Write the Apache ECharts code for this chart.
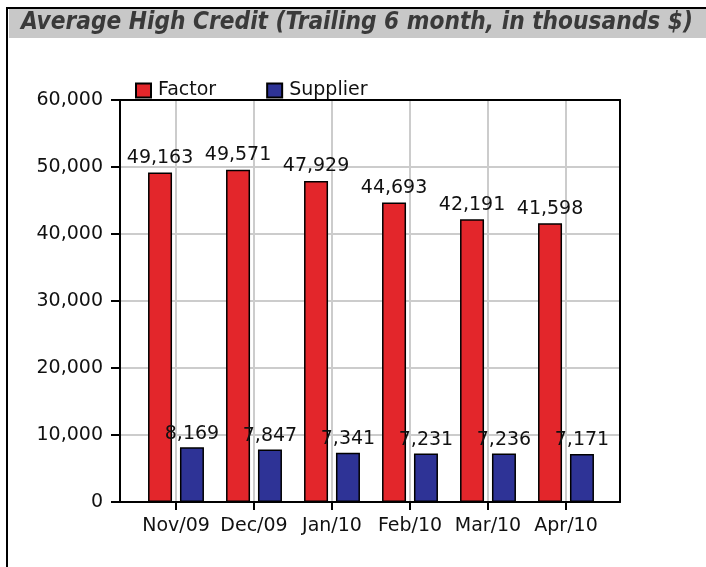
<!DOCTYPE html>
<html><head><meta charset="utf-8">
<script src="https://cdn.jsdelivr.net/npm/echarts@6/dist/echarts.min.js"></script>
<style>html,body{margin:0;padding:0;background:#fff}#c{width:706px;height:567px}</style>
</head><body><div id="c"></div>
<script>
const titleText = 'Average High Credit (Trailing 6 month, in thousands $)';
const categories = ['Nov/09','Dec/09','Jan/10','Feb/10','Mar/10','Apr/10'];
const factor = [49163, 49571, 47929, 44693, 42191, 41598];
const supplier = [8169, 7847, 7341, 7231, 7236, 7171];
const yTicks = {min: 0, max: 60000, interval: 10000};

function fmt(v){ return String(v).replace(/\B(?=(\d{3})+(?!\d))/g, ','); }
const FONT = 'DejaVu Sans';
const frameLine = {show:true, onZero:false, lineStyle:{color:'#000', width:2}};
const chart = echarts.init(document.getElementById('c'), null, {renderer:'canvas'});
chart.setOption({
  animation: false,
  graphic: [
    {type:'rect', shape:{x:9, y:9, width:700, height:29}, style:{fill:'#c8c8c8'}, z:0},
    {type:'rect', shape:{x:7, y:8, width:720, height:600}, style:{fill:'none', stroke:'#000', lineWidth:2}, z:1},
    {type:'text', left:21, top:11, style:{text:titleText, font:'italic bold 24.2px "Liberation Sans Narrow", "DejaVu Sans Condensed", Arial', fill:'#3a3a3a'}, z:2}
  ],
  legend: {
    left: 135, top: 81, padding: 0, itemWidth: 15, itemHeight: 14, itemGap: 50,
    icon: 'rect',
    textStyle: {fontFamily: FONT, fontSize: 19, color: '#111', padding:[0,0,0,2]},
    data: ['Factor','Supplier']
  },
  grid: [
    {left:120, top:100, width:500, height:402},
    {left:176, top:100, width:390, height:402}
  ],
  xAxis: [
    {gridIndex:0, type:'value', min:0, max:1, position:'bottom', axisLine:frameLine, axisTick:{show:false}, axisLabel:{show:false}, splitLine:{show:false}},
    {gridIndex:1, type:'category', data:categories, boundaryGap:false,
     axisLine:{show:false},
     axisTick:{show:true, length:8, inside:false, lineStyle:{color:'#000', width:2}, interval:0},
     axisLabel:{fontFamily:FONT, fontSize:19, color:'#111', margin:15, interval:0},
     splitLine:{show:true, interval:0, lineStyle:{color:'#cccccc', width:2}}},
    {gridIndex:0, type:'value', min:0, max:1, position:'top', axisLine:frameLine, axisTick:{show:false}, axisLabel:{show:false}, splitLine:{show:false}}
  ],
  yAxis: [
    {gridIndex:0, type:'value', min:yTicks.min, max:yTicks.max, interval:yTicks.interval,
     axisLine:frameLine,
     axisTick:{show:true, length:9, lineStyle:{color:'#000', width:2}},
     axisLabel:{fontFamily:FONT, fontSize:19, color:'#111', margin:17, formatter: v => fmt(v)},
     splitLine:{show:true, lineStyle:{color:'#cccccc', width:2}}},
    {gridIndex:1, type:'value', min:yTicks.min, max:yTicks.max, interval:yTicks.interval, show:false, splitLine:{show:false}},
    {gridIndex:0, type:'value', min:yTicks.min, max:yTicks.max, position:'right', axisLine:frameLine, axisTick:{show:false}, axisLabel:{show:false}, splitLine:{show:false}}
  ],
  series: [
    {name:'Factor', type:'bar', xAxisIndex:1, yAxisIndex:1, data:factor, barWidth:24, barGap:'33%', clip:false,
     itemStyle:{color:'#e3262b', borderColor:'#000', borderWidth:1.5},
     label:{show:true, position:'top', distance:5, fontFamily:FONT, fontSize:19, color:'#111', formatter: p => fmt(p.value)}},
    {name:'Supplier', type:'bar', xAxisIndex:1, yAxisIndex:1, data:supplier, barWidth:24, barGap:'33%', clip:false,
     itemStyle:{color:'#2e3396', borderColor:'#000', borderWidth:1.5},
     label:{show:true, position:'top', distance:4, fontFamily:FONT, fontSize:19, color:'#111', formatter: p => fmt(p.value)}}
  ]
});
</script></body></html>
